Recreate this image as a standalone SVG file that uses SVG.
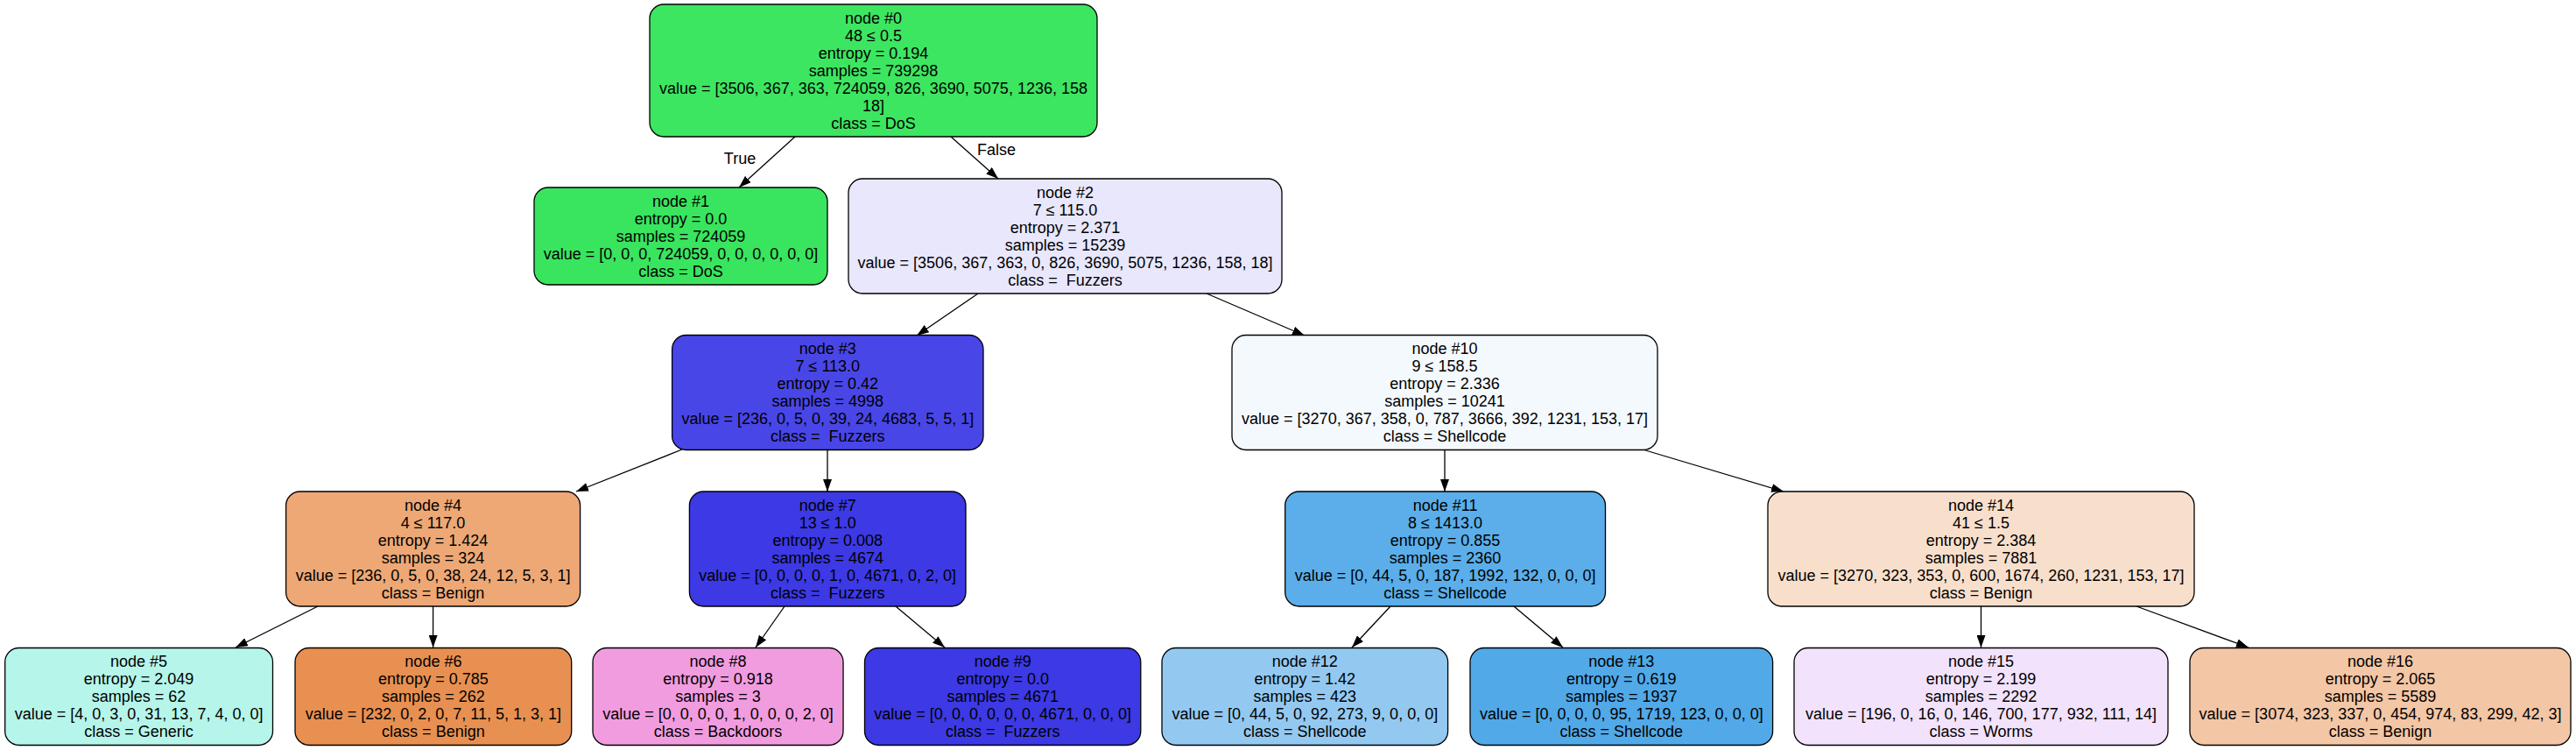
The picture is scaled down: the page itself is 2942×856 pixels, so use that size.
<svg xmlns="http://www.w3.org/2000/svg" width="2942" height="856" viewBox="0 0 2942 856">
<style>
.box{stroke:#000;stroke-width:1.3}
.t{font-family:"Liberation Sans",Arial,Helvetica,sans-serif;font-size:18px;fill:#000;text-anchor:middle;white-space:pre}
.e{stroke:#000;stroke-width:1.3;fill:none;marker-end:url(#ah)}
</style>
<defs>
<marker id="ah" markerUnits="userSpaceOnUse" markerWidth="14" markerHeight="10" refX="14" refY="5" orient="auto">
<path d="M0,0 L14,5 L0,10 z" fill="#000"/>
</marker>
</defs>
<rect width="2942" height="856" fill="#fff"/>
<g id="edges">
<line class="e" x1="908" y1="156" x2="844" y2="214"/>
<line class="e" x1="1086" y1="156" x2="1140" y2="204"/>
<line class="e" x1="1117" y1="335" x2="1047" y2="383"/>
<line class="e" x1="1378" y1="335" x2="1490" y2="383"/>
<line class="e" x1="779" y1="513" x2="658" y2="561"/>
<line class="e" x1="945" y1="513" x2="945" y2="561"/>
<line class="e" x1="363" y1="692" x2="269" y2="739"/>
<line class="e" x1="494.6" y1="692" x2="494.6" y2="739"/>
<line class="e" x1="896" y1="692" x2="863" y2="739"/>
<line class="e" x1="1023" y1="692" x2="1079" y2="739"/>
<line class="e" x1="1650" y1="513" x2="1650" y2="561"/>
<line class="e" x1="1876" y1="513" x2="2037" y2="561"/>
<line class="e" x1="1588" y1="692" x2="1544" y2="739"/>
<line class="e" x1="1729" y1="692" x2="1785" y2="739"/>
<line class="e" x1="2262.5" y1="692" x2="2262.5" y2="739"/>
<line class="e" x1="2440" y1="692" x2="2568" y2="739"/>
<text class="t" x="845" y="187">True</text>
<text class="t" x="1138" y="177">False</text>
</g>
<g id="node0">
<rect class="box" x="742" y="5" width="511" height="151" rx="16" fill="#3de661"/>
<text class="t" x="997.5" y="26.5"><tspan x="997.5">node #0</tspan><tspan x="997.5" dy="20">48 ≤ 0.5</tspan><tspan x="997.5" dy="20">entropy = 0.194</tspan><tspan x="997.5" dy="20">samples = 739298</tspan><tspan x="997.5" dy="20">value = [3506, 367, 363, 724059, 826, 3690, 5075, 1236, 158</tspan><tspan x="997.5" dy="20">18]</tspan><tspan x="997.5" dy="20">class = DoS</tspan></text>
</g>
<g id="node1">
<rect class="box" x="610" y="214" width="335" height="111" rx="16" fill="#39e55e"/>
<text class="t" x="777.5" y="235.5"><tspan x="777.5">node #1</tspan><tspan x="777.5" dy="20">entropy = 0.0</tspan><tspan x="777.5" dy="20">samples = 724059</tspan><tspan x="777.5" dy="20">value = [0, 0, 0, 724059, 0, 0, 0, 0, 0, 0]</tspan><tspan x="777.5" dy="20">class = DoS</tspan></text>
</g>
<g id="node2">
<rect class="box" x="969" y="204" width="495" height="131" rx="16" fill="#e8e7fc"/>
<text class="t" x="1216.5" y="225.5"><tspan x="1216.5">node #2</tspan><tspan x="1216.5" dy="20">7 ≤ 115.0</tspan><tspan x="1216.5" dy="20">entropy = 2.371</tspan><tspan x="1216.5" dy="20">samples = 15239</tspan><tspan x="1216.5" dy="20">value = [3506, 367, 363, 0, 826, 3690, 5075, 1236, 158, 18]</tspan><tspan x="1216.5" dy="20">class =  Fuzzers</tspan></text>
</g>
<g id="node3">
<rect class="box" x="767.6" y="382.5" width="355.4" height="131" rx="16" fill="#4946e7"/>
<text class="t" x="945.3" y="404"><tspan x="945.3">node #3</tspan><tspan x="945.3" dy="20">7 ≤ 113.0</tspan><tspan x="945.3" dy="20">entropy = 0.42</tspan><tspan x="945.3" dy="20">samples = 4998</tspan><tspan x="945.3" dy="20">value = [236, 0, 5, 0, 39, 24, 4683, 5, 5, 1]</tspan><tspan x="945.3" dy="20">class =  Fuzzers</tspan></text>
</g>
<g id="node4">
<rect class="box" x="326.6" y="561" width="336" height="131" rx="16" fill="#eda876"/>
<text class="t" x="494.6" y="582.5"><tspan x="494.6">node #4</tspan><tspan x="494.6" dy="20">4 ≤ 117.0</tspan><tspan x="494.6" dy="20">entropy = 1.424</tspan><tspan x="494.6" dy="20">samples = 324</tspan><tspan x="494.6" dy="20">value = [236, 0, 5, 0, 38, 24, 12, 5, 3, 1]</tspan><tspan x="494.6" dy="20">class = Benign</tspan></text>
</g>
<g id="node5">
<rect class="box" x="5.7" y="739.5" width="305.8" height="111" rx="16" fill="#b6f5ea"/>
<text class="t" x="158.6" y="761"><tspan x="158.6">node #5</tspan><tspan x="158.6" dy="20">entropy = 2.049</tspan><tspan x="158.6" dy="20">samples = 62</tspan><tspan x="158.6" dy="20">value = [4, 0, 3, 0, 31, 13, 7, 4, 0, 0]</tspan><tspan x="158.6" dy="20">class = Generic</tspan></text>
</g>
<g id="node6">
<rect class="box" x="337" y="739.5" width="315.7" height="111" rx="16" fill="#e89051"/>
<text class="t" x="494.9" y="761"><tspan x="494.9">node #6</tspan><tspan x="494.9" dy="20">entropy = 0.785</tspan><tspan x="494.9" dy="20">samples = 262</tspan><tspan x="494.9" dy="20">value = [232, 0, 2, 0, 7, 11, 5, 1, 3, 1]</tspan><tspan x="494.9" dy="20">class = Benign</tspan></text>
</g>
<g id="node7">
<rect class="box" x="787.4" y="561" width="315.6" height="131" rx="16" fill="#3c39e5"/>
<text class="t" x="945.2" y="582.5"><tspan x="945.2">node #7</tspan><tspan x="945.2" dy="20">13 ≤ 1.0</tspan><tspan x="945.2" dy="20">entropy = 0.008</tspan><tspan x="945.2" dy="20">samples = 4674</tspan><tspan x="945.2" dy="20">value = [0, 0, 0, 0, 1, 0, 4671, 0, 2, 0]</tspan><tspan x="945.2" dy="20">class =  Fuzzers</tspan></text>
</g>
<g id="node8">
<rect class="box" x="677" y="739.5" width="286" height="111" rx="16" fill="#f29ce0"/>
<text class="t" x="820" y="761"><tspan x="820">node #8</tspan><tspan x="820" dy="20">entropy = 0.918</tspan><tspan x="820" dy="20">samples = 3</tspan><tspan x="820" dy="20">value = [0, 0, 0, 0, 1, 0, 0, 0, 2, 0]</tspan><tspan x="820" dy="20">class = Backdoors</tspan></text>
</g>
<g id="node9">
<rect class="box" x="987.5" y="739.5" width="315.3" height="111" rx="16" fill="#3c39e5"/>
<text class="t" x="1145.2" y="761"><tspan x="1145.2">node #9</tspan><tspan x="1145.2" dy="20">entropy = 0.0</tspan><tspan x="1145.2" dy="20">samples = 4671</tspan><tspan x="1145.2" dy="20">value = [0, 0, 0, 0, 0, 0, 4671, 0, 0, 0]</tspan><tspan x="1145.2" dy="20">class =  Fuzzers</tspan></text>
</g>
<g id="node10">
<rect class="box" x="1407" y="382.5" width="486" height="131" rx="16" fill="#f4f9fe"/>
<text class="t" x="1650" y="404"><tspan x="1650">node #10</tspan><tspan x="1650" dy="20">9 ≤ 158.5</tspan><tspan x="1650" dy="20">entropy = 2.336</tspan><tspan x="1650" dy="20">samples = 10241</tspan><tspan x="1650" dy="20">value = [3270, 367, 358, 0, 787, 3666, 392, 1231, 153, 17]</tspan><tspan x="1650" dy="20">class = Shellcode</tspan></text>
</g>
<g id="node11">
<rect class="box" x="1467.7" y="561" width="365.8" height="131" rx="16" fill="#5baee9"/>
<text class="t" x="1650.6" y="582.5"><tspan x="1650.6">node #11</tspan><tspan x="1650.6" dy="20">8 ≤ 1413.0</tspan><tspan x="1650.6" dy="20">entropy = 0.855</tspan><tspan x="1650.6" dy="20">samples = 2360</tspan><tspan x="1650.6" dy="20">value = [0, 44, 5, 0, 187, 1992, 132, 0, 0, 0]</tspan><tspan x="1650.6" dy="20">class = Shellcode</tspan></text>
</g>
<g id="node12">
<rect class="box" x="1327" y="739.5" width="326.6" height="111" rx="16" fill="#93c9f1"/>
<text class="t" x="1490.3" y="761"><tspan x="1490.3">node #12</tspan><tspan x="1490.3" dy="20">entropy = 1.42</tspan><tspan x="1490.3" dy="20">samples = 423</tspan><tspan x="1490.3" dy="20">value = [0, 44, 5, 0, 92, 273, 9, 0, 0, 0]</tspan><tspan x="1490.3" dy="20">class = Shellcode</tspan></text>
</g>
<g id="node13">
<rect class="box" x="1679" y="739.5" width="345.6" height="111" rx="16" fill="#51a9e8"/>
<text class="t" x="1851.8" y="761"><tspan x="1851.8">node #13</tspan><tspan x="1851.8" dy="20">entropy = 0.619</tspan><tspan x="1851.8" dy="20">samples = 1937</tspan><tspan x="1851.8" dy="20">value = [0, 0, 0, 0, 95, 1719, 123, 0, 0, 0]</tspan><tspan x="1851.8" dy="20">class = Shellcode</tspan></text>
</g>
<g id="node14">
<rect class="box" x="2019" y="561" width="487" height="131" rx="16" fill="#f8dfcc"/>
<text class="t" x="2262.5" y="582.5"><tspan x="2262.5">node #14</tspan><tspan x="2262.5" dy="20">41 ≤ 1.5</tspan><tspan x="2262.5" dy="20">entropy = 2.384</tspan><tspan x="2262.5" dy="20">samples = 7881</tspan><tspan x="2262.5" dy="20">value = [3270, 323, 353, 0, 600, 1674, 260, 1231, 153, 17]</tspan><tspan x="2262.5" dy="20">class = Benign</tspan></text>
</g>
<g id="node15">
<rect class="box" x="2049" y="739.5" width="427" height="111" rx="16" fill="#f2e2fb"/>
<text class="t" x="2262.5" y="761"><tspan x="2262.5">node #15</tspan><tspan x="2262.5" dy="20">entropy = 2.199</tspan><tspan x="2262.5" dy="20">samples = 2292</tspan><tspan x="2262.5" dy="20">value = [196, 0, 16, 0, 146, 700, 177, 932, 111, 14]</tspan><tspan x="2262.5" dy="20">class = Worms</tspan></text>
</g>
<g id="node16">
<rect class="box" x="2501" y="739.5" width="435" height="111" rx="16" fill="#f3c6a5"/>
<text class="t" x="2718.5" y="761"><tspan x="2718.5">node #16</tspan><tspan x="2718.5" dy="20">entropy = 2.065</tspan><tspan x="2718.5" dy="20">samples = 5589</tspan><tspan x="2718.5" dy="20">value = [3074, 323, 337, 0, 454, 974, 83, 299, 42, 3]</tspan><tspan x="2718.5" dy="20">class = Benign</tspan></text>
</g>
</svg>
